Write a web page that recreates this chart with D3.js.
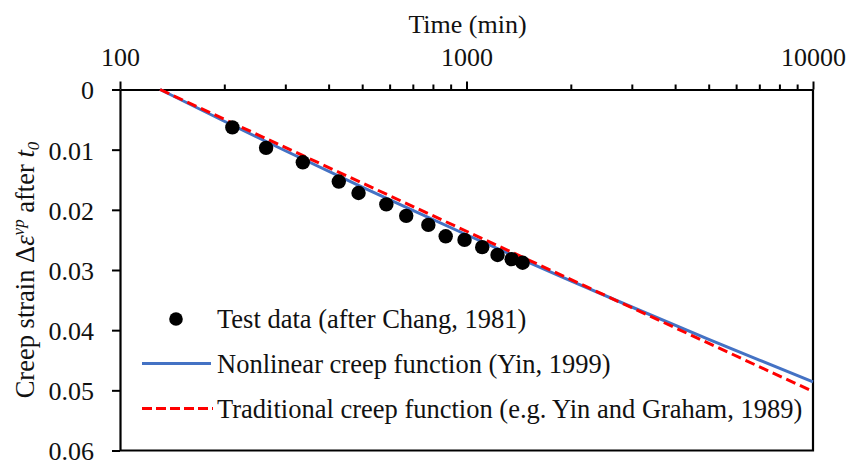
<!DOCTYPE html>
<html>
<head>
<meta charset="utf-8">
<script src="https://cdn.jsdelivr.net/npm/d3@7"></script>
<style>
  html, body { margin: 0; padding: 0; background: #fff; }
  svg { display: block; }
  text { font-family: "Liberation Serif", "Times New Roman", serif; fill: #111; }
</style>
</head>
<body>
<svg id="chart" width="853" height="465"></svg>
<script>
// Test data (after Chang, 1981): time in minutes, creep strain after t0
const testTime   = [211, 264, 337, 428, 488, 587, 670, 776, 871, 987, 1110, 1229, 1350, 1452];
const testStrain = [0.0063, 0.0097, 0.0121, 0.0153, 0.0172, 0.0191, 0.0210, 0.0225, 0.0244, 0.0250, 0.0262, 0.0275, 0.0282, 0.0288];

// Nonlinear creep function (Yin, 1999)
const nonlinTime   = [130.5, 200, 300, 500, 700, 1000, 1500, 2000, 3000, 5000, 7000, 10000];
const nonlinStrain = [0, 0.00528, 0.01018, 0.01621, 0.02009, 0.02414, 0.02865, 0.0318, 0.03615, 0.04152, 0.04497, 0.0486];

// Traditional creep function (e.g. Yin and Graham, 1989)
const tradTime   = [130.5, 1000, 3000, 10000];
const tradStrain = [0, 0.02356, 0.03627, 0.0502];

const xMajorTicks = [100, 1000, 10000];
const xMinorTicks = [200, 300, 400, 500, 600, 700, 800, 900, 2000, 3000, 4000, 5000, 6000, 7000, 8000, 9000];
const yTicks = [0, 0.01, 0.02, 0.03, 0.04, 0.05, 0.06];

const legendLabels = [
  "Test data (after Chang, 1981)",
  "Nonlinear creep function (Yin, 1999)",
  "Traditional creep function (e.g. Yin and Graham, 1989)"
];

const blue = "#4472C4", red = "#FF0000";
const svg = d3.select("#chart");
const plotLeft = 120, plotRight = 813, plotTop = 89.5, plotBottom = 450.5;

const x = d3.scaleLog().domain([100, 10000]).range([plotLeft, plotRight]);
const y = d3.scaleLinear().domain([0, 0.06]).range([plotTop, plotBottom]);

// plot frame (right and bottom edges)
svg.append("path")
  .attr("d", `M${plotRight},${plotTop}V${plotBottom}H${plotLeft}`)
  .attr("fill", "none").attr("stroke", "#000").attr("stroke-width", 2.2);

// top axis: minor ticks
svg.append("g").attr("transform", `translate(0,${plotTop})`)
  .call(d3.axisTop(x).tickValues(xMinorTicks).tickSize(5).tickFormat(""))
  .call(g => g.select(".domain").remove())
  .call(g => g.selectAll("line").attr("stroke", "#000").attr("stroke-width", 2));

// top axis: major ticks and labels
svg.append("g").attr("transform", `translate(0,${plotTop})`)
  .call(d3.axisTop(x).tickValues(xMajorTicks).tickSize(8).tickSizeOuter(0).tickPadding(16).tickFormat(d3.format("d")))
  .call(g => g.select(".domain").attr("stroke", "#000").attr("stroke-width", 2.2))
  .call(g => g.selectAll("line").attr("stroke", "#000").attr("stroke-width", 2))
  .call(g => g.selectAll("text").attr("font-size", 26).attr("font-family", "Liberation Serif").attr("fill", "#111"));

// left axis
svg.append("g").attr("transform", `translate(${plotLeft},0)`)
  .call(d3.axisLeft(y).tickValues(yTicks).tickSize(8).tickSizeOuter(0).tickPadding(18)
    .tickFormat(d => d === 0 ? "0" : d.toFixed(2)))
  .call(g => g.select(".domain").attr("stroke", "#000").attr("stroke-width", 2.2))
  .call(g => g.selectAll("line").attr("stroke", "#000").attr("stroke-width", 2))
  .call(g => g.selectAll("text").attr("font-size", 26).attr("font-family", "Liberation Serif").attr("fill", "#111").attr("dy", "0.36em"));

// axis titles
svg.append("text")
  .attr("x", (plotLeft + plotRight) / 2 + 1).attr("y", 33)
  .attr("text-anchor", "middle").attr("font-size", 26)
  .text("Time (min)");

const yTitle = svg.append("text")
  .attr("transform", `translate(34,${(plotTop + plotBottom) / 2}) rotate(-90)`)
  .attr("text-anchor", "middle").attr("font-size", 26.5);
yTitle.append("tspan").text("Creep strain \u0394");
yTitle.append("tspan").attr("font-style", "italic").text("\u03B5");
yTitle.append("tspan").attr("font-style", "italic").attr("font-size", 17).attr("dy", -10).text("vp");
yTitle.append("tspan").attr("dy", 10).text(" after ");
yTitle.append("tspan").attr("font-style", "italic").text("t");
yTitle.append("tspan").attr("font-style", "italic").attr("font-size", 17).attr("dy", 5).text("0");

// series lines
const lineOf = (ts, vs) => d3.line().x((d, i) => x(ts[i])).y((d, i) => y(vs[i]))(ts);

svg.append("path")
  .attr("d", lineOf(nonlinTime, nonlinStrain))
  .attr("fill", "none").attr("stroke", blue).attr("stroke-width", 3);

svg.append("path")
  .attr("d", lineOf(tradTime, tradStrain))
  .attr("fill", "none").attr("stroke", red).attr("stroke-width", 3)
  .attr("stroke-dasharray", "10,5");

// test data points
svg.append("g").selectAll("circle")
  .data(testTime)
  .join("circle")
  .attr("cx", d => x(d))
  .attr("cy", (d, i) => y(testStrain[i]))
  .attr("r", 7.2)
  .attr("fill", "#000");

// legend
const legRows = [319, 363.5, 408.5];
const lg = svg.append("g");
lg.append("circle").attr("cx", 176).attr("cy", legRows[0]).attr("r", 6.8).attr("fill", "#000");
lg.append("line").attr("x1", 142).attr("x2", 211).attr("y1", legRows[1]).attr("y2", legRows[1])
  .attr("stroke", blue).attr("stroke-width", 3);
lg.append("line").attr("x1", 142).attr("x2", 213).attr("y1", legRows[2]).attr("y2", legRows[2])
  .attr("stroke", red).attr("stroke-width", 3).attr("stroke-dasharray", "10,4");
lg.selectAll("text.leg")
  .data(legendLabels)
  .join("text")
  .attr("class", "leg")
  .attr("x", 217)
  .attr("y", (d, i) => legRows[i] + 9)
  .attr("font-size", 26.5)
  .text(d => d);
</script>
</body>
</html>
